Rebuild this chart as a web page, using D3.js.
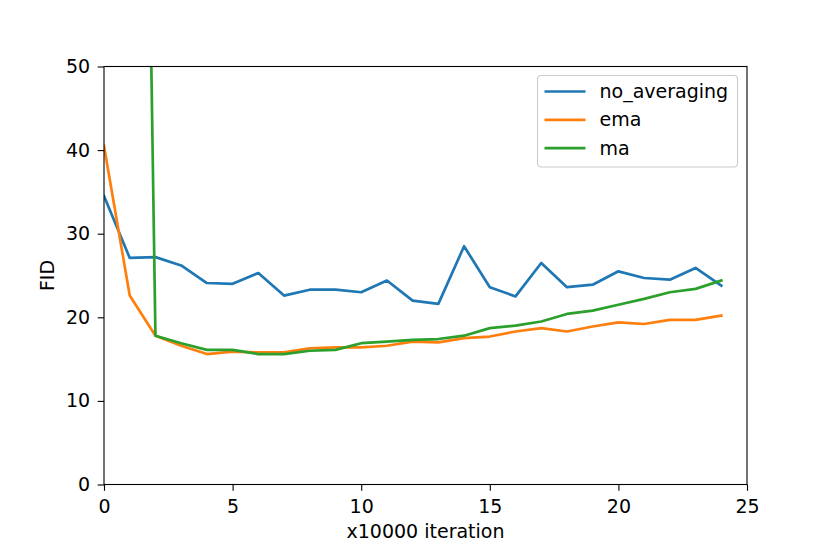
<!DOCTYPE html>
<html>
<head>
<meta charset="utf-8">
<script src="https://cdn.jsdelivr.net/npm/d3@7"></script>
<style>
  body { margin: 0; background: #fff; overflow: hidden; }
  svg { display: block; }
</style>
</head>
<body>
<div id="chart"></div>
<script>
const iterations = d3.range(0, 25);
const noAveraging = [34.5, 27.1, 27.2, 26.2, 24.1, 24.0, 25.3, 22.6, 23.3, 23.3, 23.0, 24.4, 22.0, 21.6, 28.5, 23.6, 22.5, 26.5, 23.6, 23.9, 25.5, 24.7, 24.5, 25.9, 23.8];
const ema = [40.5, 22.6, 17.8, 16.6, 15.6, 15.9, 15.8, 15.8, 16.3, 16.4, 16.4, 16.6, 17.1, 17.0, 17.5, 17.7, 18.3, 18.7, 18.3, 18.9, 19.4, 19.2, 19.7, 19.7, 20.2];
const ma = [260, 220, 17.8, 16.9, 16.1, 16.1, 15.6, 15.6, 16.0, 16.1, 16.9, 17.1, 17.3, 17.4, 17.8, 18.7, 19.0, 19.5, 20.4, 20.8, 21.5, 22.2, 23.0, 23.4, 24.4];
const seriesNames = ["no_averaging", "ema", "ma"];
const seriesColors = ["#1f77b4", "#ff7f0e", "#2ca02c"];
const xTicks = [0, 5, 10, 15, 20, 25];
const yTicks = [0, 10, 20, 30, 40, 50];

const width = 830, height = 554;
const margin = { top: 66.5, right: 83, bottom: 69.5, left: 104 };
const innerWidth = width - margin.left - margin.right;
const innerHeight = height - margin.top - margin.bottom;
const font = "DejaVu Sans, sans-serif";
const fontSize = 19;

const x = d3.scaleLinear().domain([0, 25]).range([0, innerWidth]);
const y = d3.scaleLinear().domain([0, 50]).range([innerHeight, 0]);

const svg = d3.select("#chart").append("svg")
  .attr("width", width)
  .attr("height", height)
  .attr("font-family", font)
  .attr("font-size", fontSize);

svg.append("defs").append("clipPath")
  .attr("id", "plot-clip")
  .append("rect")
    .attr("width", innerWidth)
    .attr("height", innerHeight);

const g = svg.append("g")
  .attr("transform", `translate(${margin.left},${margin.top})`);

// lines
const line = d3.line()
  .x((d, i) => x(iterations[i]))
  .y(d => y(d));

const allSeries = [noAveraging, ema, ma];
const lines = g.append("g").attr("clip-path", "url(#plot-clip)");
allSeries.forEach((values, k) => {
  lines.append("path")
    .datum(values)
    .attr("fill", "none")
    .attr("stroke", seriesColors[k])
    .attr("stroke-width", 2.7)
    .attr("stroke-linejoin", "round")
    .attr("stroke-linecap", "square")
    .attr("d", line);
});

// axes
const xAxis = g.append("g")
  .attr("transform", `translate(0,${innerHeight})`)
  .call(d3.axisBottom(x).tickValues(xTicks).tickSize(6.3).tickPadding(8.5).tickFormat(d3.format("d")));
const yAxis = g.append("g")
  .call(d3.axisLeft(y).tickValues(yTicks).tickSize(6.3).tickPadding(7.5).tickFormat(d3.format("d")));

[xAxis, yAxis].forEach(ax => {
  ax.attr("font-family", font).attr("font-size", fontSize);
  ax.select(".domain").remove();
  ax.selectAll("line").attr("stroke", "#000").attr("stroke-width", 1.1);
  ax.selectAll("text").attr("fill", "#000");
});

// frame
g.append("rect")
  .attr("width", innerWidth)
  .attr("height", innerHeight)
  .attr("fill", "none")
  .attr("stroke", "#000")
  .attr("stroke-width", 1.1);

// axis labels
svg.append("text")
  .attr("x", margin.left + innerWidth / 2)
  .attr("y", 538)
  .attr("text-anchor", "middle")
  .text("x10000 iteration");

svg.append("text")
  .attr("transform", `translate(54,${margin.top + innerHeight / 2}) rotate(-90)`)
  .attr("text-anchor", "middle")
  .text("FID");

// legend
const legend = g.append("g")
  .attr("transform", `translate(${537.5 - margin.left},${75.5 - margin.top})`);
legend.append("rect")
  .attr("width", 200)
  .attr("height", 91.5)
  .attr("rx", 3.5)
  .attr("fill", "#fff")
  .attr("fill-opacity", 0.8)
  .attr("stroke", "#ccc")
  .attr("stroke-width", 1.1);

seriesNames.forEach((name, k) => {
  const row = legend.append("g").attr("transform", `translate(0,${16 + k * 28.3})`);
  row.append("line")
    .attr("x1", 7).attr("x2", 48)
    .attr("stroke", seriesColors[k])
    .attr("stroke-width", 2.7);
  row.append("text")
    .attr("x", 62)
    .attr("dy", "0.35em")
    .text(name);
});
</script>
</body>
</html>
